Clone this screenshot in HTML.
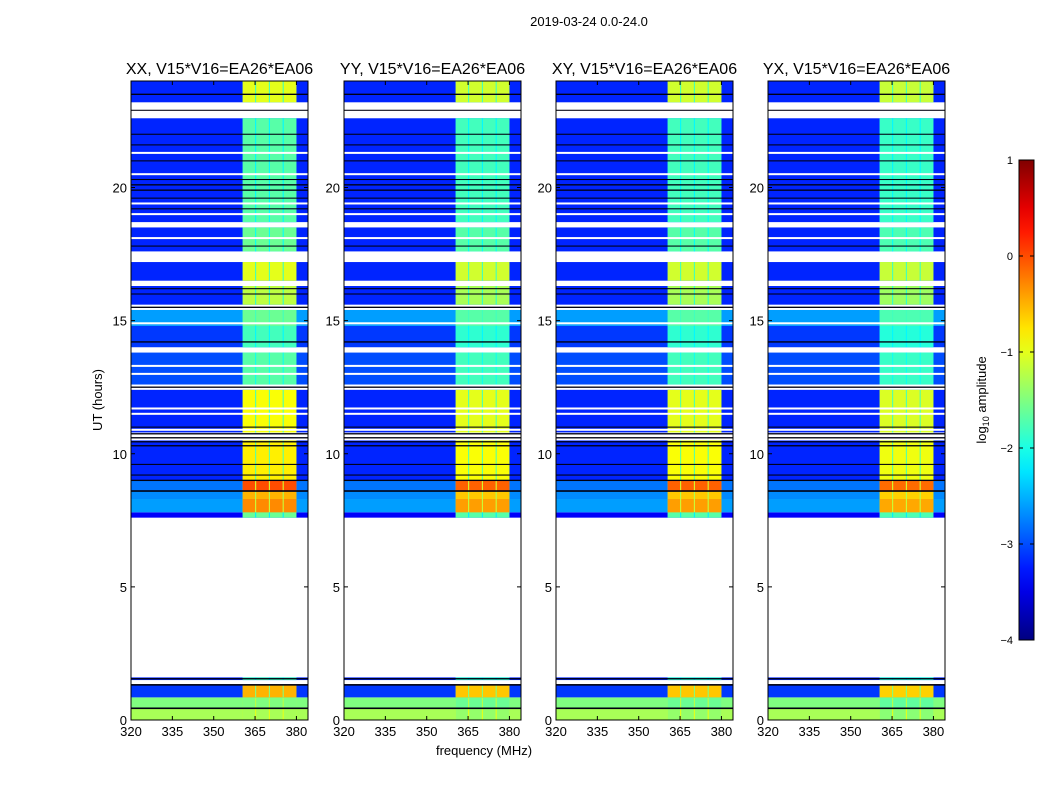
<!DOCTYPE html>
<html><head><meta charset="utf-8"><style>
body{margin:0;background:#fff;width:1050px;height:800px;overflow:hidden;font-family:"Liberation Sans",sans-serif}
</style></head><body>
<svg id="fig" width="1050" height="800" xmlns="http://www.w3.org/2000/svg" font-family="Liberation Sans, sans-serif">
<text x="589" y="26" font-size="13" text-anchor="middle">2019-03-24 0.0-24.0</text>
<text transform="translate(102,400) rotate(-90)" font-size="13" text-anchor="middle">UT (hours)</text>
<text x="484" y="755" font-size="13" text-anchor="middle">frequency (MHz)</text>
<g id="panels"></g>
<g id="cbar"></g>
<text transform="translate(986,400) rotate(-90)" font-size="13" text-anchor="middle">log<tspan font-size="9" dy="3">10</tspan><tspan dy="-3"> amplitude</tspan></text>
</svg>
<script>
const NS='http://www.w3.org/2000/svg';
const panelTitles=['XX, V15*V16=EA26*EA06','YY, V15*V16=EA26*EA06','XY, V15*V16=EA26*EA06','YX, V15*V16=EA26*EA06'];
const panelLefts=[131,344,556,768];
const xTicks=[320,335,350,365,380];
const yTicks=[0,5,10,15,20];
const cbTicks=[1,0,-1,-2,-3,-4];
// time segments: [start hour, end hour, background log10 amp, band log10 amp]
const segStart=[0,0.45,0.85,1.5,7.6,7.8,8.3,8.6,9.0,10.8,12.6,14.0,14.8,15.6,16.5,17.6,18.7,23.2];
const segEnd=  [0.42,0.85,1.3,1.6,7.8,8.3,8.6,9.0,10.5,12.4,13.8,14.8,15.4,16.3,17.2,18.5,22.6,24];
const segBase= [-1.3,-1.5,-3.1,-3.2,-3.4,-2.6,-2.7,-2.8,-3.2,-3.2,-3.0,-3.1,-2.6,-3.2,-3.2,-3.2,-3.2,-3.2];
const segBand= [-1.3,-1.5,-0.5,-1.8,-1.6,-0.3,-0.5,0.0,-0.8,-0.9,-1.7,-1.8,-1.6,-1.2,-1.0,-1.6,-1.7,-1.0];
// per-panel band offset
const panelBandOffset=[0,-0.1,-0.1,-0.15];
// sub-bands in MHz
const subStart=[360.5,365.4,370.4,375.4];
const subEnd=[365.0,370.0,375.0,380.0];
// dark (black) flagged lines in hours
const blackLines=[0.44,1.32,1.55,8.6,9.0,9.2,9.6,10.3,10.45,10.6,10.75,11.0,12.5,14.2,15.5,16.0,16.2,17.8,19.2,19.6,19.9,20.1,20.3,21.0,21.6,22.0,22.9,23.5];
const blackLineW=[0.06,0.06,0.05,0.06,0.05,0.04,0.04,0.05,0.05,0.05,0.05,0.04,0.05,0.05,0.05,0.04,0.04,0.04,0.04,0.04,0.05,0.05,0.04,0.04,0.04,0.04,0.04,0.05];
// white (flagged) thin lines in hours
const whiteLines=[10.9,11.5,11.7,13.0,13.3,14.9,16.45,17.3,17.45,18.1,19.0,19.4,20.5,21.3,22.7,23.1];

const PW=177,PT=81,PB=720,FMIN=320,FMAX=384.2,TMAX=24;
function jet(v){let t=(v+4)/5;t=Math.max(0,Math.min(1,t));
 const c=x=>Math.round(255*Math.max(0,Math.min(1,1.5-Math.abs(4*t-x))));
 return `rgb(${c(3)},${c(2)},${c(1)})`;}
function el(tag,attrs,parent){const e=document.createElementNS(NS,tag);for(const k in attrs)e.setAttribute(k,attrs[k]);parent.appendChild(e);return e;}
const yS=h=>PB-(h/TMAX)*(PB-PT);
const panelsG=document.getElementById('panels');
panelLefts.forEach((L,p)=>{
 const xS=f=>L+(f-FMIN)/(FMAX-FMIN)*PW;
 const g=el('g',{},panelsG);
 
 
 segStart.forEach((s,i)=>{
  const r=el('rect',{x:L,y:yS(segEnd[i]),width:PW,height:yS(s)-yS(segEnd[i]),fill:jet(segBase[i])},g);
  
  
  const gap=el('rect',{x:xS(subStart[0]),y:yS(segEnd[i]),width:xS(subEnd[3])-xS(subStart[0]),height:yS(s)-yS(segEnd[i]),fill:jet((segBand[i]+segBase[i])/2+0.3)},g);
  
  
  subStart.forEach((f,j)=>{
   const b=el('rect',{x:xS(f),y:yS(segEnd[i]),width:xS(subEnd[j])-xS(f),height:yS(s)-yS(segEnd[i]),fill:jet(segBand[i]+panelBandOffset[p])},g);
   
   
  });
 });
 blackLines.forEach((h,i)=>{const r=el('rect',{x:L,y:yS(h+blackLineW[i]/2),width:PW,height:Math.max(1,yS(h)-yS(h+blackLineW[i])),fill:'#000010'},g);
  });
 whiteLines.forEach(h=>{const r=el('rect',{x:L,y:yS(h)-1,width:PW,height:2,fill:'#fff'},g);
  });
 const fr=el('rect',{x:L,y:PT,width:PW,height:PB-PT,fill:'none',stroke:'#000','stroke-width':1},g);
 
 const t=el('text',{x:L+PW/2,y:74,'font-size':16,'text-anchor':'middle'},g);t.textContent=panelTitles[p];
 
 xTicks.forEach(f=>{const x=xS(f);
  el('line',{x1:x,x2:x,y1:PB,y2:PB-4,stroke:'#000'},g);el('line',{x1:x,x2:x,y1:PT,y2:PT+4,stroke:'#000'},g);
  const tx=el('text',{x:x,y:PB+16,'font-size':13,'text-anchor':'middle'},g);tx.textContent=f;
  });
 yTicks.forEach(h=>{const y=yS(h);
  el('line',{x1:L,x2:L+4,y1:y,y2:y,stroke:'#000'},g);el('line',{x1:L+PW,x2:L+PW-4,y1:y,y2:y,stroke:'#000'},g);
  const ty=el('text',{x:L-4,y:y+5,'font-size':13,'text-anchor':'end'},g);ty.textContent=h;
  });
});
// colorbar
const cb=document.getElementById('cbar');
const CT=160,CB=640,CL=1019,CW=15;
const grad=el('linearGradient',{id:'jetg',x1:0,y1:1,x2:0,y2:0},el('defs',{},cb));
for(let i=0;i<=20;i++){el('stop',{offset:i/20,'stop-color':jet(-4+5*i/20)},grad);}
const cr=el('rect',{x:CL,y:CT,width:CW,height:CB-CT,fill:'url(#jetg)',stroke:'#000'},cb);

cbTicks.forEach(v=>{const y=CB-(v+4)/5*(CB-CT);
 el('line',{x1:CL,x2:CL+4,y1:y,y2:y,stroke:'#000'},cb);el('line',{x1:CL+CW,x2:CL+CW-4,y1:y,y2:y,stroke:'#000'},cb);
 const t=el('text',{x:CL-6,y:y+4,'font-size':11,'text-anchor':'end'},cb);t.textContent=v<0?'\u2212'+(-v):v;
 });
</script>
</body></html>
